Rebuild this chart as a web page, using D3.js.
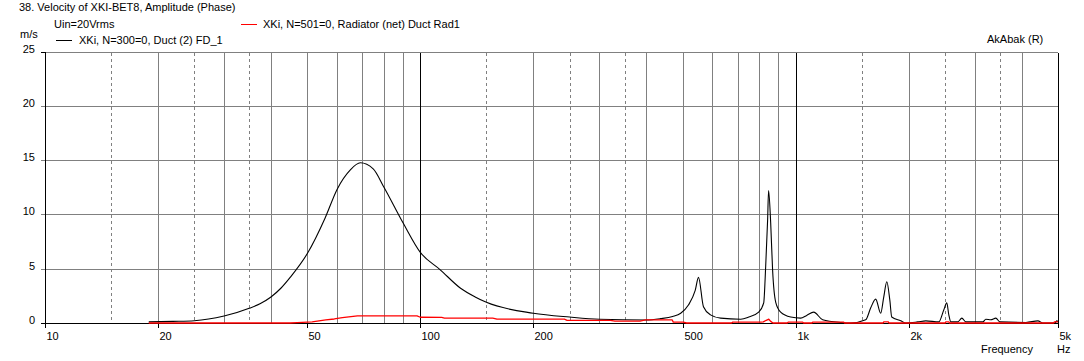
<!DOCTYPE html>
<html>
<head>
<meta charset="utf-8">
<script src="https://cdn.jsdelivr.net/npm/d3@7/dist/d3.min.js"></script>
<style>
  html, body { margin: 0; padding: 0; background: #fff; }
  svg { display: block; }
  text { font-family: "Liberation Sans", Arial, sans-serif; font-size: 11px; fill: #000; }
</style>
</head>
<body>
<svg id="chart" width="1084" height="361"></svg>
<script>
// ---------- data ----------
const title = "38. Velocity of XKI-BET8, Amplitude (Phase)";
const subtitle = "Uin=20Vrms";
const yUnit = "m/s";
const xUnit = "Hz";
const xTitle = "Frequency";
const brand = "AkAbak (R)";
const seriesNames = ["XKi, N=300=0, Duct (2) FD_1", "XKi, N=501=0, Radiator (net) Duct Rad1"];
const seriesColors = ["#000000", "#ff0000"];

const xTickValues = [10, 20, 50, 100, 200, 500, 1000, 2000, 5000];
const xTickLabels = ["10", "20", "50", "100", "200", "500", "1k", "2k", "5k"];
const yTickValues = [0, 5, 10, 15, 20, 25];
const gridSolid = [20, 30, 40, 50, 60, 70, 80, 90, 200, 300, 400, 500, 600, 700, 800, 900, 2000, 3000, 4000];
const gridDashed = [15, 25, 35, 150, 250, 350, 1500, 2500, 3500];
const gridMajor = [100, 1000];

// black series: Duct (2) FD_1
const ductFreq = [18.9, 21.9, 25, 30, 35, 37.5, 40, 42.5, 45, 50, 55.8, 60, 65.1, 69.2, 74.9, 80, 90, 100, 113, 128, 140, 150,
  200, 250, 300, 400, 436, 470, 494, 518, 540, 551, 568, 593, 631, 714, 750, 797, 822, 832, 842, 847, 858, 868, 885, 912,
  970, 1031, 1070, 1117, 1180, 1318, 1401, 1537, 1585, 1634, 1685, 1717, 1749, 1782, 1803, 1905, 1966, 2115, 2222, 2406,
  2481, 2527, 2559, 2591, 2704, 2772, 2840, 3153, 3211, 3311, 3415, 3500, 4106, 4420, 4557, 4906, 4967, 5000];
const ductVel = [0.1, 0.15, 0.21, 0.64, 1.35, 1.8, 2.4, 3.2, 4.2, 6.4, 9.7, 12.3, 14.1, 14.75, 14.2, 12.5, 9.2, 6.5, 4.9, 3.2, 2.4, 1.9,
  0.9, 0.55, 0.35, 0.28, 0.4, 0.6, 0.9, 1.65, 3.0, 4.2, 1.5, 0.75, 0.45, 0.35, 0.55, 1.0, 1.85, 5.2, 9.5, 12.2, 9.2, 4.9, 1.9, 1.0,
  0.55, 0.45, 0.7, 1.0, 0.3, 0.05, 0.0, 0.3, 1.4, 2.2, 0.9, 2.4, 3.8, 2.1, 0.55, 0.2, 0.0, 0.1, 0.2, 0.1,
  1.2, 1.85, 0.75, 0.1, 0.1, 0.45, 0.1, 0.1, 0.35, 0.3, 0.45, 0.1, 0.05, 0.2, 0.0, 0.0, 0.2, 0.1];

// red series: Radiator (net) Duct Rad1
const radFreq = [18.9, 45, 47, 51.5, 56, 59, 62, 68, 98, 100, 114, 116, 156, 160, 242, 246, 321, 330, 385, 398, 469, 472,
  502, 512, 675, 680, 806, 820, 835, 848, 858, 870, 950, 955, 1044, 1050, 1105, 1110, 1343, 1350, 1710, 1717, 1766, 1772,
  2505, 2510, 2560, 2570, 4870, 4890, 5000];
const radVel = [0, 0, 0.04, 0.1, 0.28, 0.37, 0.49, 0.65, 0.65, 0.53, 0.52, 0.45, 0.45, 0.36, 0.36, 0.25, 0.25, 0.18, 0.18, 0.28, 0.28, 0.08,
  0.08, 0, 0, 0.08, 0.08, 0.1, 0.25, 0.35, 0.15, 0, 0, 0.08, 0.08, 0, 0, 0.08, 0.08, 0, 0, 0.1, 0.1, 0,
  0, 0.1, 0.1, 0, 0, 0.1, 0.1];

// ---------- drawing ----------
const svg = d3.select("#chart");
const plotLeft = 45, plotRight = 1058, plotTop = 51.5, plotBottom = 323;
const x = d3.scaleLog().domain([10, 5000]).range([plotLeft, plotRight]);
const y = d3.scaleLinear().domain([0, 25]).range([plotBottom, plotTop]);
const px = v => Math.round(x(v)) + 0.5;
const py = v => Math.round(y(v)) + 0.5;

svg.append("rect").attr("width", 1084).attr("height", 361).attr("fill", "#fff");

const grid = svg.append("g").attr("shape-rendering", "crispEdges");
grid.selectAll("line.h").data(yTickValues.filter(v => v > 0)).join("line")
  .attr("x1", plotLeft - 4).attr("x2", plotRight).attr("y1", py).attr("y2", py)
  .attr("stroke", "#808080").attr("stroke-width", 1);
grid.selectAll("line.vs").data(gridSolid).join("line")
  .attr("x1", px).attr("x2", px).attr("y1", py(25)).attr("y2", py(0))
  .attr("stroke", "#808080").attr("stroke-width", 1);
grid.selectAll("line.vd").data(gridDashed).join("line")
  .attr("x1", px).attr("x2", px).attr("y1", py(25)).attr("y2", py(0))
  .attr("stroke", "#808080").attr("stroke-width", 1).attr("stroke-dasharray", "3,3");
grid.selectAll("line.vm").data(gridMajor).join("line")
  .attr("x1", px).attr("x2", px).attr("y1", py(25)).attr("y2", py(0))
  .attr("stroke", "#000").attr("stroke-width", 1);

// axes
const axes = svg.append("g").attr("shape-rendering", "crispEdges");
axes.append("line").attr("x1", px(10)).attr("x2", px(10)).attr("y1", py(25) - 1).attr("y2", py(0) + 4).attr("stroke", "#000");
axes.append("line").attr("x1", px(5000)).attr("x2", px(5000)).attr("y1", py(25)).attr("y2", py(0) + 4).attr("stroke", "#000");
axes.append("line").attr("x1", plotLeft - 4).attr("x2", px(5000)).attr("y1", py(0)).attr("y2", py(0)).attr("stroke", "#000");
axes.append("line").attr("x1", plotLeft - 4).attr("x2", px(10)).attr("y1", py(25)).attr("y2", py(25)).attr("stroke", "#000");
axes.selectAll("line.xt").data(xTickValues).join("line")
  .attr("x1", px).attr("x2", px).attr("y1", py(0)).attr("y2", py(0) + 4).attr("stroke", "#000");

// tick labels
svg.selectAll("text.yl").data(yTickValues).join("text")
  .attr("x", 35).attr("y", v => py(v) + 0.5).attr("text-anchor", "end").text(v => v);
svg.selectAll("text.xl").data(xTickValues).join("text")
  .attr("x", v => px(v) + 1).attr("y", 339.5).text((v, i) => xTickLabels[i]);

// curves
const smoothLine = d3.line().x(d => x(d[0])).y(d => y(d[1])).curve(d3.curveMonotoneX);
const stepLine = d3.line().x(d => x(d[0])).y(d => y(d[1]));
const ductData = ductFreq.map((f, i) => [f, ductVel[i]]);
const radData = radFreq.map((f, i) => [f, radVel[i]]);
svg.append("path").datum(ductData).attr("d", smoothLine)
  .attr("fill", "none").attr("stroke", seriesColors[0]).attr("stroke-width", 1.1).attr("stroke-linejoin", "round");
svg.append("path").datum(radData).attr("d", stepLine)
  .attr("fill", "none").attr("stroke", seriesColors[1]).attr("stroke-width", 1.3).attr("stroke-linejoin", "round");

// header texts
svg.append("text").attr("x", 19).attr("y", 11).text(title);
svg.append("text").attr("x", 54).attr("y", 27.5).text(subtitle);
svg.append("text").attr("x", 20).attr("y", 37.5).text(yUnit);
svg.append("text").attr("x", 987).attr("y", 43).text(brand);
svg.append("text").attr("x", 981).attr("y", 353).text(xTitle);
svg.append("text").attr("x", 1057).attr("y", 353).text(xUnit);

// legend
const legend = [
  { name: seriesNames[0], color: seriesColors[0], lx: 56, ly: 40.5, tx: 79, ty: 44 },
  { name: seriesNames[1], color: seriesColors[1], lx: 241, ly: 24.5, tx: 263, ty: 28 }
];
legend.forEach(l => {
  svg.append("line").attr("x1", l.lx).attr("x2", l.lx + 16).attr("y1", l.ly).attr("y2", l.ly)
    .attr("stroke", l.color).attr("stroke-width", 1).attr("shape-rendering", "crispEdges");
  svg.append("text").attr("x", l.tx).attr("y", l.ty).text(l.name);
});
</script>
</body>
</html>
